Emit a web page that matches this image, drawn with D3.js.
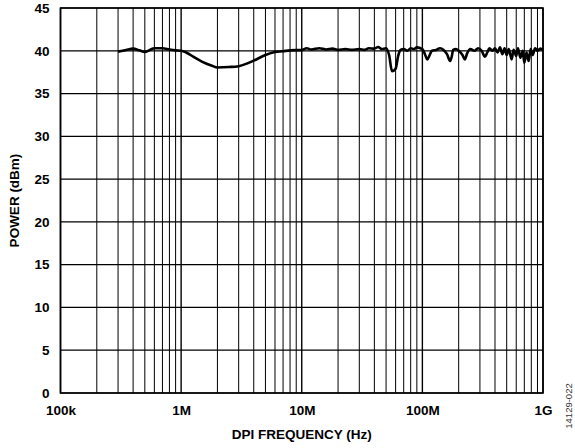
<!DOCTYPE html>
<html>
<head>
<meta charset="utf-8">
<script src="https://cdn.jsdelivr.net/npm/d3@7"></script>
<style>
  html, body { margin: 0; padding: 0; background: #fff; }
  svg { display: block; }
  text { font-family: "Liberation Sans", Arial, sans-serif; font-weight: bold; fill: #000; }
</style>
</head>
<body>
<svg id="chart" width="575" height="448"></svg>
<script>
// ---- data ----
const xTickValues = [1e5, 1e6, 1e7, 1e8, 1e9];
const xTickLabels = ["100k", "1M", "10M", "100M", "1G"];
const yTickValues = [0, 5, 10, 15, 20, 25, 30, 35, 40, 45];
const frequencyHz = [
  3e5, 3.5e5, 4e5, 4.5e5, 5e5, 5.5e5, 6e5, 7e5, 8e5, 9e5,
  1e6, 1.1e6, 1.3e6, 1.5e6, 1.8e6, 2e6, 2.5e6, 3e6, 3.5e6, 4e6,
  5e6, 6e6, 7e6, 8e6, 1e7, 1.1e7, 1.2e7, 1.4e7, 1.6e7, 1.8e7,
  2e7, 2.3e7, 2.6e7, 3e7, 3.3e7, 3.6e7, 4e7, 4.3e7, 4.6e7, 5e7,
  5.3e7, 5.6e7, 6e7, 6.3e7, 6.6e7, 7e7, 7.5e7, 8e7, 8.5e7, 9e7,
  1e8, 1.05e8, 1.1e8, 1.15e8, 1.2e8, 1.3e8, 1.4e8, 1.5e8, 1.6e8, 1.7e8,
  1.75e8, 1.8e8, 1.9e8, 2e8, 2.15e8, 2.25e8, 2.35e8, 2.5e8, 2.7e8, 2.9e8,
  3.1e8, 3.3e8, 3.45e8, 3.6e8, 3.8e8, 4e8, 4.2e8, 4.4e8, 4.6e8, 4.8e8,
  5e8, 5.2e8, 5.5e8, 5.7e8, 6e8, 6.2e8, 6.5e8, 6.8e8, 7e8, 7.3e8,
  7.6e8, 7.9e8, 8.2e8, 8.6e8, 9e8, 9.5e8, 1e9
];
const powerDbm = [
  39.9, 40.1, 40.25, 40.05, 39.85, 40.1, 40.3, 40.3, 40.15, 40.05,
  40.0, 39.8, 39.2, 38.7, 38.25, 38.05, 38.1, 38.2, 38.5, 38.85,
  39.5, 39.85, 39.95, 40.05, 40.1, 40.3, 40.15, 40.3, 40.15, 40.25,
  40.1, 40.2, 40.1, 40.2, 40.1, 40.3, 40.25, 40.45, 40.2, 40.3,
  39.5, 37.6, 37.9, 39.4, 40.1, 40.2, 40.0, 40.3, 40.2, 40.4,
  40.2, 39.6, 39.0, 39.5, 40.0, 40.1, 40.3, 40.1, 39.6, 38.8,
  39.3, 40.1, 40.2, 40.0, 39.5, 39.0, 39.7, 40.2, 40.0, 40.3,
  40.0, 39.3, 39.8, 40.3, 40.0, 40.3, 39.8, 40.4, 39.6, 40.3,
  39.5, 40.2, 39.0, 40.1, 39.4, 40.3, 39.2, 40.0, 38.6, 39.8,
  38.8, 40.2, 39.5, 40.3, 40.0, 40.25, 40.1
];

// ---- layout ----
const svg = d3.select("#chart");
const mLeft = 60.5, mRight = 543, mTop = 8, mBottom = 393;

const x = d3.scaleLog().domain([1e5, 1e9]).range([mLeft, mRight]);
const y = d3.scaleLinear().domain([0, 45]).range([mBottom, mTop]);

// minor/major vertical gridlines
const vLines = [];
for (let d = 1e5; d < 1e9; d *= 10) {
  for (let m = 1; m <= 9; m++) vLines.push({ v: d * m, major: m === 1 });
}
vLines.push({ v: 1e9, major: true });

svg.append("g").selectAll("line").data(vLines).join("line")
  .attr("x1", d => x(d.v)).attr("x2", d => x(d.v))
  .attr("y1", mTop).attr("y2", mBottom)
  .attr("stroke", "#000")
  .attr("stroke-width", d => d.major ? 1.4 : 1);

svg.append("g").selectAll("line").data(yTickValues).join("line")
  .attr("x1", mLeft).attr("x2", mRight)
  .attr("y1", d => y(d)).attr("y2", d => y(d))
  .attr("stroke", "#000").attr("stroke-width", 1.2);

// frame
svg.append("rect")
  .attr("x", mLeft).attr("y", mTop)
  .attr("width", mRight - mLeft).attr("height", mBottom - mTop)
  .attr("fill", "none").attr("stroke", "#000").attr("stroke-width", 1.6);

// axes labels via d3 axes (no domain/tick lines)
const xAxis = d3.axisBottom(x).tickValues(xTickValues)
  .tickFormat((d, i) => xTickLabels[i]).tickSize(0).tickPadding(12);
const gx = svg.append("g").attr("transform", `translate(0,${mBottom})`).call(xAxis);
gx.select(".domain").remove();
gx.selectAll("text").style("font-size", "13.5px").style("font-family", "Liberation Sans, Arial, sans-serif").style("font-weight", "bold").attr("fill", "#000");

const yAxis = d3.axisLeft(y).tickValues(yTickValues).tickSize(0).tickPadding(11);
const gy = svg.append("g").attr("transform", `translate(${mLeft},0)`).call(yAxis);
gy.select(".domain").remove();
gy.selectAll("text").style("font-size", "13.5px").style("font-family", "Liberation Sans, Arial, sans-serif").style("font-weight", "bold").attr("fill", "#000");

// data line
const pts = frequencyHz.map((f, i) => [f, powerDbm[i]]);
const line = d3.line().x(d => x(d[0])).y(d => y(d[1])).curve(d3.curveMonotoneX);
svg.append("path").datum(pts)
  .attr("d", line)
  .attr("fill", "none").attr("stroke", "#000")
  .attr("stroke-width", 2.6).attr("stroke-linejoin", "round");

// titles
svg.append("text")
  .attr("x", (mLeft + mRight) / 2).attr("y", 439)
  .attr("text-anchor", "middle")
  .style("font-size", "13.5px")
  .text("DPI FREQUENCY (Hz)");

svg.append("text")
  .attr("transform", `translate(19,${(mTop + mBottom) / 2}) rotate(-90)`)
  .attr("text-anchor", "middle")
  .style("font-size", "13.5px")
  .text("POWER (dBm)");

svg.append("text")
  .attr("transform", `translate(572,406) rotate(-90)`)
  .attr("text-anchor", "middle")
  .style("font-size", "9.5px").style("font-weight", "normal").style("fill", "#333")
  .text("14129-022");
</script>
</body>
</html>
